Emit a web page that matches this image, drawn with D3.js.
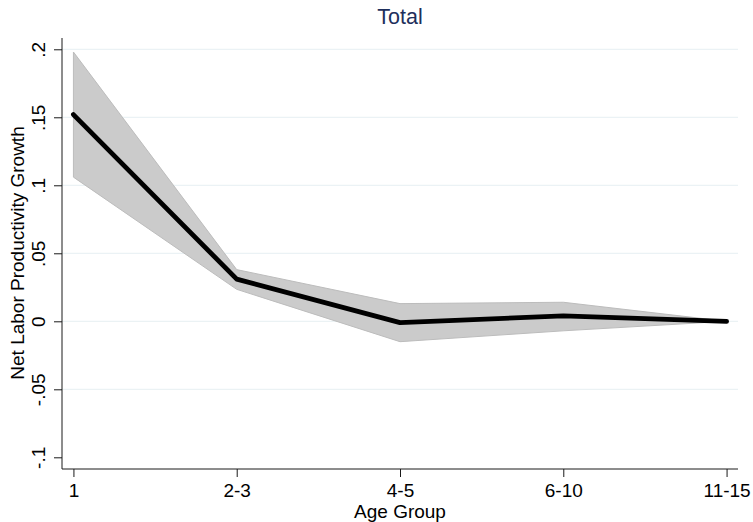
<!DOCTYPE html>
<html>
<head>
<meta charset="utf-8">
<script src="https://cdn.jsdelivr.net/npm/d3@7"></script>
<style>
  html, body { margin: 0; padding: 0; background: #ffffff; }
  svg { display: block; font-family: "Liberation Sans", Arial, Helvetica, sans-serif; }
</style>
</head>
<body>
<div id="chart"></div>
<script>
// Age groups on the x axis
const ageGroups = ["1", "2-3", "4-5", "6-10", "11-15"];
// Point estimates of net labor productivity growth
const estimate = [0.152, 0.031, -0.001, 0.004, 0];
// Confidence band bounds
const upperBound = [0.198, 0.038, 0.013, 0.014, 0];
const lowerBound = [0.106, 0.0235, -0.015, -0.007, 0];
// Y axis ticks and their labels
const yTickValues = [-0.1, -0.05, 0, 0.05, 0.1, 0.15, 0.2];
const yTickLabels = ["-.1", "-.05", "0", ".05", ".1", ".15", ".2"];

const width = 753, height = 522;
const plot = { left: 62, right: 738, top: 38, bottom: 469 };

const svg = d3.select("#chart").append("svg")
  .attr("width", width).attr("height", height);

const x = d3.scalePoint()
  .domain(ageGroups)
  .range([plot.left, plot.right])
  .padding(0.07);

const y = d3.scaleLinear()
  .domain([-0.1086, 0.2083])
  .range([plot.bottom, plot.top]);

// Horizontal grid lines (none at the bottom tick)
svg.append("g")
  .selectAll("line")
  .data(yTickValues.filter(v => v > -0.1))
  .join("line")
  .attr("x1", plot.left).attr("x2", plot.right)
  .attr("y1", d => y(d)).attr("y2", d => y(d))
  .attr("stroke", "#e6eff2").attr("stroke-width", 1);

// Confidence band
const rows = ageGroups.map((g, i) => ({ g, est: estimate[i], lo: lowerBound[i], hi: upperBound[i] }));

svg.append("path")
  .datum(rows)
  .attr("d", d3.area().x(d => x(d.g)).y0(d => y(d.lo)).y1(d => y(d.hi)))
  .attr("fill", "#cbcbcb")
  .attr("stroke", "#bcbcbc")
  .attr("stroke-width", 1);

// Estimate line
svg.append("path")
  .datum(rows)
  .attr("d", d3.line().x(d => x(d.g)).y(d => y(d.est)))
  .attr("fill", "none")
  .attr("stroke", "#000000")
  .attr("stroke-width", 4.8)
  .attr("stroke-linejoin", "round")
  .attr("stroke-linecap", "round");

// Y axis
const yAxis = svg.append("g")
  .attr("transform", `translate(${plot.left},0)`)
  .call(d3.axisLeft(y)
    .tickValues(yTickValues)
    .tickSize(8)
    .tickFormat((d, i) => yTickLabels[i]));
yAxis.select(".domain")
  .attr("d", `M0,${plot.top}V${plot.bottom}`)
  .attr("stroke", "#1a1a1a");
yAxis.selectAll(".tick line").attr("stroke", "#1a1a1a");
yAxis.selectAll(".tick text")
  .attr("font-size", 19)
  .attr("fill", "#000")
  .attr("text-anchor", "middle")
  .attr("x", null).attr("dy", null)
  .attr("transform", "translate(-17,0) rotate(-90)");

// X axis
const xAxis = svg.append("g")
  .attr("transform", `translate(0,${plot.bottom})`)
  .call(d3.axisBottom(x).tickSize(8));
xAxis.select(".domain")
  .attr("d", `M${plot.left},0H${plot.right}`)
  .attr("stroke", "#1a1a1a");
xAxis.selectAll(".tick line").attr("stroke", "#1a1a1a");
xAxis.selectAll(".tick text")
  .attr("font-size", 19)
  .attr("fill", "#000")
  .attr("y", 27.5).attr("dy", null);

// Axis titles
svg.append("text")
  .attr("x", (plot.left + plot.right) / 2)
  .attr("y", 517.5)
  .attr("text-anchor", "middle")
  .attr("font-size", 19)
  .attr("fill", "#000")
  .text("Age Group");

svg.append("text")
  .attr("transform", `translate(24,253) rotate(-90)`)
  .attr("text-anchor", "middle")
  .attr("font-size", 19)
  .attr("fill", "#000")
  .text("Net Labor Productivity Growth");

// Chart title
svg.append("text")
  .attr("x", (plot.left + plot.right) / 2)
  .attr("y", 23.5)
  .attr("text-anchor", "middle")
  .attr("font-size", 21.5)
  .attr("fill", "#1e2f5c")
  .text("Total");
</script>
</body>
</html>
